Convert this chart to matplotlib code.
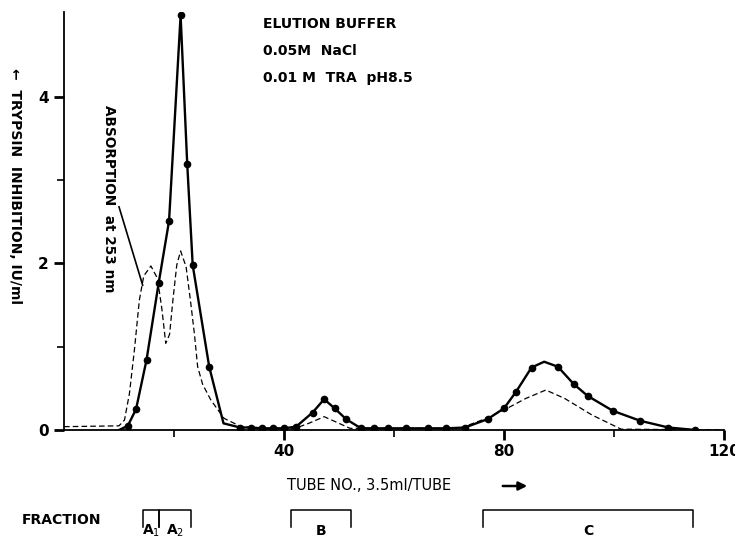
import matplotlib
matplotlib.use("Agg")
import matplotlib.pyplot as plt
import numpy as np

# ---- data ----
# trypsin inhibition (solid line with markers)
inh_tube = [10.0, 11.6, 13.1, 15.0, 17.2, 19.1, 21.2, 22.4, 23.4, 26.4, 29.0,
            32.0, 34.0, 36.0, 38.0, 40.0, 42.2, 45.2, 47.3, 49.2, 51.3, 54.0,
            56.4, 58.9, 62.2, 66.1, 69.5, 72.9, 77.0, 80.0, 82.2, 85.0, 87.3,
            89.8, 92.7, 95.2, 99.8, 104.8, 109.9, 114.8]
inh_val = [0.0, 0.05, 0.25, 0.84, 1.76, 2.51, 4.98, 3.20, 1.98, 0.76, 0.08,
           0.03, 0.03, 0.02, 0.02, 0.02, 0.04, 0.21, 0.37, 0.26, 0.13, 0.02,
           0.02, 0.02, 0.02, 0.02, 0.02, 0.03, 0.13, 0.26, 0.46, 0.75, 0.82,
           0.76, 0.55, 0.41, 0.23, 0.11, 0.03, 0.0]
inh_marked = [1, 2, 3, 4, 5, 6, 7, 8, 9, 11, 12, 13, 14, 15, 16, 17, 18, 19,
              20, 21, 22, 23, 24, 25, 26, 27, 28, 29, 30, 31, 33, 34, 35, 36,
              37, 38, 39]

# absorption at 253 nm (dashed line, arbitrary scale)
abs_tube = [0.0, 10.0, 11.0, 11.9, 12.8, 13.7, 14.5, 15.8, 17.0, 17.8, 18.5,
            19.2, 19.8, 20.5, 21.2, 22.2, 23.0, 23.7, 24.3, 25.2, 26.7, 29.1,
            32.2, 36.0, 42.0, 44.5, 47.3, 50.0, 52.0, 72.0, 76.0, 80.0, 84.0,
            87.6, 91.0, 96.0, 101.3, 120.0]
abs_val = [0.04, 0.05, 0.12, 0.44, 0.96, 1.56, 1.85, 1.97, 1.82, 1.45, 1.04,
           1.15, 1.56, 1.98, 2.15, 1.96, 1.55, 1.16, 0.76, 0.55, 0.36, 0.14,
           0.04, 0.02, 0.02, 0.08, 0.16, 0.08, 0.02, 0.02, 0.12, 0.24, 0.38,
           0.48, 0.38, 0.18, 0.01, 0.0]

x_ticks = [40, 80, 120]
x_minor = [20, 60, 100]
y_ticks = [0, 2, 4]
y_minor = [1, 3]

buffer_lines = ["ELUTION BUFFER", "0.05M  NaCl", "0.01 M  TRA  pH8.5"]
fractions = [("A$_1$", 14.4, 17.3), ("A$_2$", 17.3, 23.1),
             ("B", 41.3, 52.2), ("C", 76.2, 114.4)]

# ---- figure ----
W, H = 735, 539
fig = plt.figure(figsize=(W / 100, H / 100), dpi=100)
ax = fig.add_axes([64 / W, (H - 430) / H, (724 - 64) / W, (430 - 12) / H])

ax.plot(inh_tube, inh_val, color="black", lw=1.7, marker="o", ms=4.5,
        markevery=inh_marked, solid_joinstyle="round", zorder=3)
ax.plot(abs_tube, abs_val, color="black", lw=0.9, dashes=(4.5, 2.5), zorder=2)

ax.set_xlim(0, 120)
ax.set_ylim(0, 5.02)
for s in ("top", "right"):
    ax.spines[s].set_visible(False)
for s in ("left", "bottom"):
    ax.spines[s].set_linewidth(1.3)

ax.set_xticks(x_ticks)
ax.set_xticks(x_minor, minor=True)
ax.set_yticks(y_ticks)
ax.set_yticks(y_minor, minor=True)
ax.set_xticklabels([str(t) for t in x_ticks], fontsize=11, fontweight="bold")
ax.set_yticklabels([str(t) for t in y_ticks], fontsize=11, fontweight="bold")
ax.tick_params(axis="both", which="major", direction="out", length=7, width=2)
ax.tick_params(axis="both", which="minor", direction="out", length=5, width=1.2)
ax.tick_params(axis="x", pad=3)
ax.tick_params(axis="y", pad=4)

# annotations
for i, t in enumerate(buffer_lines):
    fig.text(263 / W, 1 - (24 + 27 * i) / H, t, fontsize=10, fontweight="bold",
             va="center", ha="left")

ax.text(8.2, 2.78, "ABSORPTION  at 253 nm", rotation=-90, fontsize=9.8,
        fontweight="bold", ha="center", va="center")
ax.plot([10.0, 14.3], [2.68, 1.74], color="black", lw=1.2)

fig.text(15 / W, 1 - 186 / H, "\u2190  TRYPSIN  INHIBITION, IU/ml",
         rotation=-90, fontsize=10, fontweight="bold", ha="center", va="center")
fig.text(287 / W, 1 - 486 / H, "TUBE NO., 3.5ml/TUBE", fontsize=10.5,
         ha="left", va="center")
fig.add_artist(matplotlib.patches.FancyArrowPatch(
    (500 / W, 1 - 486 / H), (530 / W, 1 - 486 / H), transform=fig.transFigure,
    arrowstyle="-|>,head_length=5,head_width=2.5", lw=1.8, color="black",
    mutation_scale=1))

fig.text(22 / W, 1 - 520 / H, "FRACTION", fontsize=10, fontweight="bold",
         ha="left", va="center")

trans = ax.get_xaxis_transform()
y_top = -(510 - 430) / 418
y_leg = -(527 - 430) / 418
y_lab = -(531 - 430) / 418
for lab, a, b in fractions:
    ax.plot([a, a, b, b], [y_leg, y_top, y_top, y_leg], color="black", lw=1.1,
            transform=trans, clip_on=False)
    ax.text((a + b) / 2, y_lab, lab, transform=trans, fontsize=10,
            fontweight="bold", ha="center", va="center", clip_on=False)

fig.savefig("out.png", dpi=100)
